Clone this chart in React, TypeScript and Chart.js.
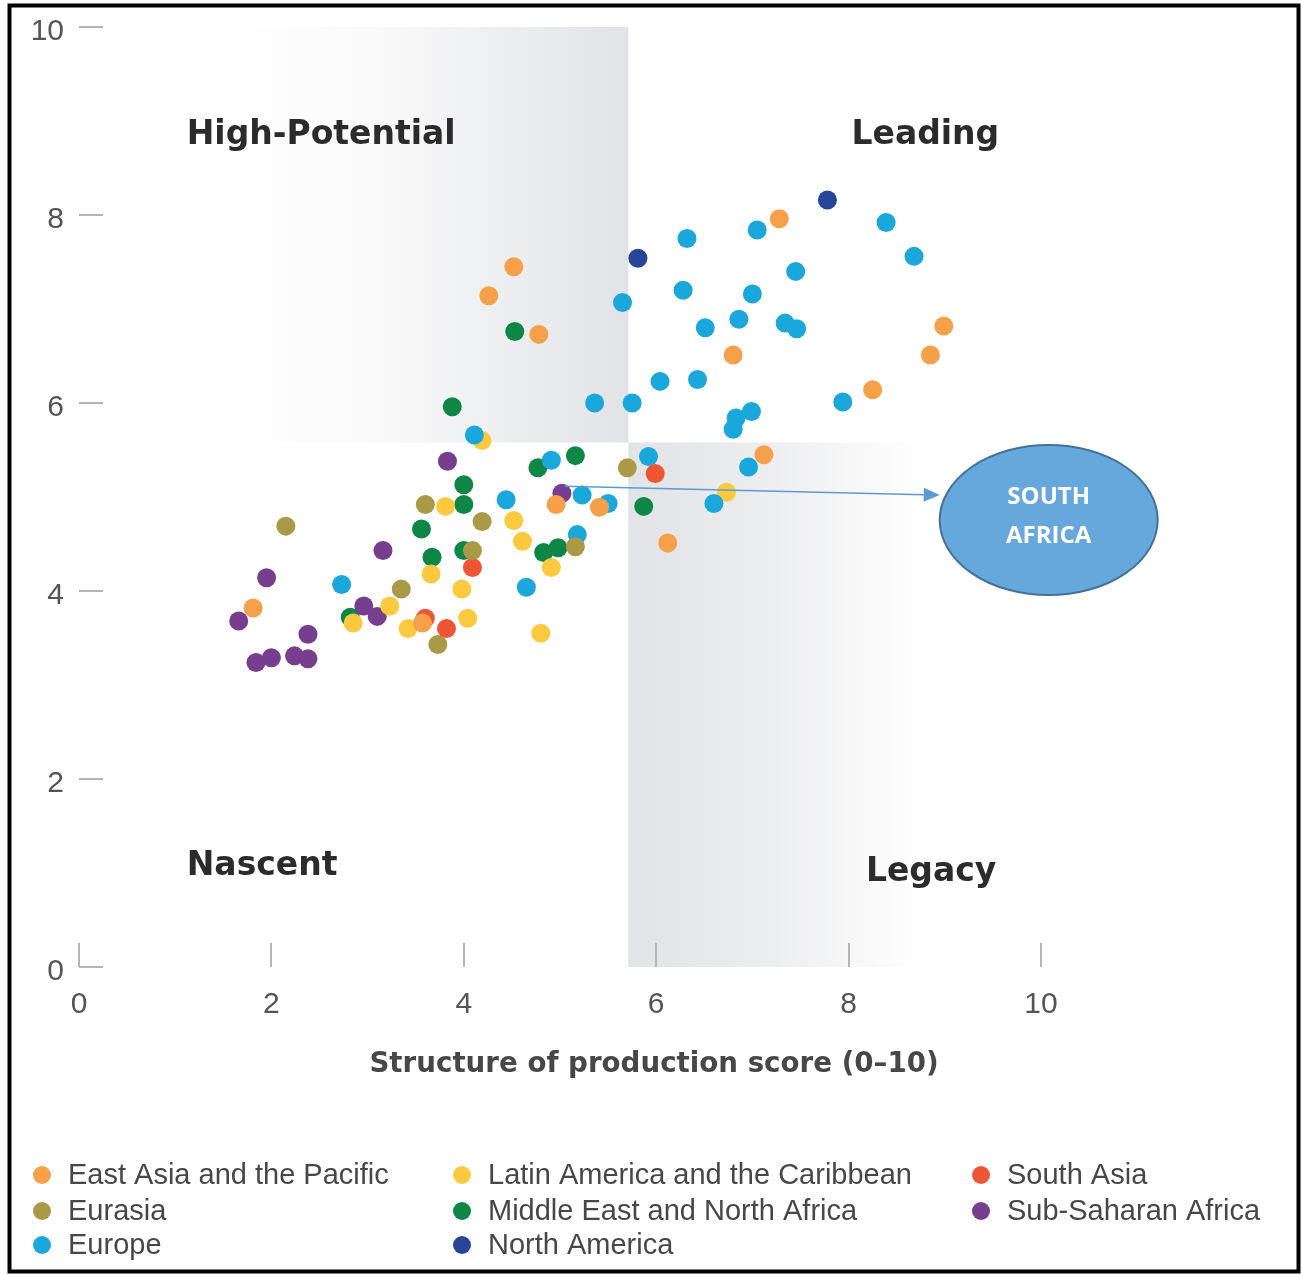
import React, { useEffect, useRef } from "react";
import { Chart, registerables } from "chart.js";

Chart.register(...registerables);

// ---------- data ----------
const REGIONS = [
  "East Asia and the Pacific",
  "Eurasia",
  "Europe",
  "Latin America and the Caribbean",
  "Middle East and North Africa",
  "North America",
  "South Asia",
  "Sub-Saharan Africa",
];
const REGION_COLORS = ["#F6A04A", "#AA9A48", "#1AA7DC", "#FDC93F", "#0E8646", "#26469A", "#EE5535", "#773D8E"];
// lower = drawn on top
const DRAW_ORDER = [1, 2, 4, 5, 7, 0, 3, 6];

// [structure of production score, drivers of production score]
const EAST_ASIA_PACIFIC = [
  [7.28, 7.96], [4.52, 7.45], [4.26, 7.14], [4.78, 6.73], [8.99, 6.82], [6.8, 6.51], [8.85, 6.51],
  [8.25, 6.14], [7.12, 5.45], [4.96, 4.92], [5.41, 4.89], [6.12, 4.51], [1.81, 3.82], [3.57, 3.66],
];
const EURASIA = [
  [2.15, 4.69], [3.6, 4.92], [4.19, 4.74], [4.09, 4.43], [3.35, 4.02], [3.73, 3.43], [5.16, 4.47], [5.7, 5.31],
];
const EUROPE = [
  [7.05, 7.84], [6.32, 7.75], [8.39, 7.92], [8.68, 7.56], [7.45, 7.4], [6.28, 7.2], [7.0, 7.16], [5.65, 7.07],
  [6.51, 6.8], [6.86, 6.89], [7.34, 6.85], [7.46, 6.79], [6.04, 6.23], [6.43, 6.25], [7.94, 6.01], [5.36, 6.0],
  [5.75, 6.0], [6.99, 5.91], [6.83, 5.84], [6.8, 5.72], [4.11, 5.66], [4.91, 5.39], [5.92, 5.43], [6.96, 5.32],
  [6.6, 4.93], [5.23, 5.02], [5.5, 4.93], [4.44, 4.97], [5.18, 4.6], [4.65, 4.04], [2.73, 4.07],
];
const LATIN_AMERICA_CARIBBEAN = [
  [4.19, 5.6], [3.81, 4.9], [4.52, 4.75], [4.61, 4.53], [4.91, 4.25], [3.66, 4.18], [3.98, 4.02],
  [3.23, 3.84], [2.85, 3.66], [3.42, 3.6], [4.04, 3.71], [4.8, 3.55], [6.73, 5.05],
];
const MIDDLE_EAST_NORTH_AFRICA = [
  [4.53, 6.76], [3.88, 5.96], [5.16, 5.44], [4.77, 5.31], [4.0, 5.13], [4.0, 4.92], [3.56, 4.66],
  [5.87, 4.9], [4.83, 4.41], [4.98, 4.46], [4.0, 4.43], [3.67, 4.36], [2.82, 3.72],
];
const NORTH_AMERICA = [[7.78, 8.16], [5.81, 7.54]];
const SOUTH_ASIA = [[5.99, 5.25], [4.09, 4.25], [3.6, 3.71], [3.82, 3.6]];
const SUB_SAHARAN_AFRICA = [
  [3.83, 5.38], [5.02, 5.04], [3.16, 4.43], [1.95, 4.14], [1.66, 3.68], [2.96, 3.84],
  [3.1, 3.73], [2.38, 3.54], [1.84, 3.24], [2.0, 3.29], [2.24, 3.31], [2.38, 3.28],
];
const SERIES = [
  EAST_ASIA_PACIFIC, EURASIA, EUROPE, LATIN_AMERICA_CARIBBEAN,
  MIDDLE_EAST_NORTH_AFRICA, NORTH_AMERICA, SOUTH_ASIA, SUB_SAHARAN_AFRICA,
];

const X_TITLE = "Structure of production score (0\u201310)";
const QUADRANTS = [
  { label: "High-Potential", x: 1.12, y: 8.76 },
  { label: "Leading", x: 8.03, y: 8.76 },
  { label: "Nascent", x: 1.12, y: 0.98 },
  { label: "Legacy", x: 8.18, y: 0.91 },
];
// shaded quadrant bands [x0, x1, y0, y1]
const HIGH_POTENTIAL_BAND = [1.67, 5.71, 5.58, 10];
const LEGACY_BAND = [5.71, 8.75, 0, 5.58];

// annotation
const HIGHLIGHT = { series: 7, index: 1 };
const CALLOUT = { x: 10.08, y: 4.755, lines: ["SOUTH", "AFRICA"] };

// ---------- plugins ----------
const SHADE = "226,227,230";

const backgroundPlugin = {
  id: "bgShade",
  beforeDraw(chart: any) {
    const { ctx, scales } = chart;
    const xs = scales.x;
    const ys = scales.y;
    ctx.save();
    ctx.fillStyle = "#ffffff";
    ctx.fillRect(0, 0, chart.width, chart.height);
    const band = (b: number[], leftDark: boolean) => {
      const x0 = xs.getPixelForValue(b[0]);
      const x1 = xs.getPixelForValue(b[1]);
      const y0 = ys.getPixelForValue(b[3]);
      const y1 = ys.getPixelForValue(b[2]);
      const g = ctx.createLinearGradient(x0, 0, x1, 0);
      if (leftDark) {
        g.addColorStop(0, `rgba(${SHADE},1)`);
        g.addColorStop(0.5, `rgba(${SHADE},0.6)`);
        g.addColorStop(1, `rgba(${SHADE},0)`);
      } else {
        g.addColorStop(0, `rgba(${SHADE},0)`);
        g.addColorStop(0.4, `rgba(${SHADE},0.25)`);
        g.addColorStop(1, `rgba(${SHADE},1)`);
      }
      ctx.fillStyle = g;
      ctx.fillRect(x0, y0, x1 - x0, y1 - y0);
    };
    band(HIGH_POTENTIAL_BAND, false);
    band(LEGACY_BAND, true);
    ctx.restore();
  },
  beforeDatasetsDraw(chart: any) {
    const { ctx, scales } = chart;
    ctx.save();
    ctx.font = "bold 33px 'DejaVu Sans'";
    ctx.fillStyle = "#2b2b2b";
    ctx.textBaseline = "alphabetic";
    ctx.textAlign = "left";
    QUADRANTS.forEach((q) => {
      ctx.fillText(q.label, scales.x.getPixelForValue(q.x), scales.y.getPixelForValue(q.y));
    });
    ctx.restore();
  },
};

const annotationPlugin = {
  id: "annotations",
  afterDraw(chart: any) {
    const { ctx, scales } = chart;
    const xs = scales.x;
    const ys = scales.y;
    ctx.save();

    // x axis title, centred on the figure
    ctx.font = "bold 27.7px 'DejaVu Sans'";
    ctx.fillStyle = "#474747";
    ctx.textAlign = "center";
    ctx.textBaseline = "alphabetic";
    ctx.fillText(X_TITLE, 654, 1072);

    // callout
    const meta = chart.getDatasetMeta(HIGHLIGHT.series);
    const pt = meta.data[HIGHLIGHT.index];
    const cx = xs.getPixelForValue(CALLOUT.x);
    const cy = ys.getPixelForValue(CALLOUT.y);
    const sx = pt.x + 3;
    const sy = pt.y - 7;
    const tx = cx - 109;
    const ty = cy - 25;
    const ang = Math.atan2(ty - sy, tx - sx);
    const headLen = 16;
    const headHalf = 7;
    const bx = tx - headLen * Math.cos(ang);
    const by = ty - headLen * Math.sin(ang);
    ctx.strokeStyle = "#5B9BD5";
    ctx.lineWidth = 1.5;
    ctx.beginPath();
    ctx.moveTo(sx, sy);
    ctx.lineTo(bx, by);
    ctx.stroke();
    ctx.fillStyle = "#5B9BD5";
    ctx.beginPath();
    ctx.moveTo(tx, ty);
    ctx.lineTo(bx + headHalf * Math.sin(ang), by - headHalf * Math.cos(ang));
    ctx.lineTo(bx - headHalf * Math.sin(ang), by + headHalf * Math.cos(ang));
    ctx.closePath();
    ctx.fill();

    ctx.beginPath();
    ctx.ellipse(cx, cy, 109, 75, 0, 0, Math.PI * 2);
    ctx.fillStyle = "#66A8DB";
    ctx.fill();
    ctx.lineWidth = 2;
    ctx.strokeStyle = "#41719C";
    ctx.stroke();
    ctx.fillStyle = "#ffffff";
    ctx.font = "bold 24px 'Open Sans'";
    ctx.textAlign = "center";
    ctx.textBaseline = "middle";
    ctx.fillText(CALLOUT.lines[0], cx, cy - 23);
    ctx.fillText(CALLOUT.lines[1], cx, cy + 16);

    // legend, column-major, 3 rows
    const colX = [42, 462, 981];
    const rowY = [1175, 1211, 1245];
    ctx.font = "29px 'Liberation Sans'";
    ctx.textAlign = "left";
    ctx.textBaseline = "middle";
    chart.data.datasets.forEach((ds: any, i: number) => {
      const col = Math.floor(i / 3);
      const row = i % 3;
      const lx = colX[col];
      const ly = rowY[row];
      ctx.fillStyle = ds.backgroundColor;
      ctx.beginPath();
      ctx.arc(lx, ly, 9, 0, Math.PI * 2);
      ctx.fill();
      ctx.fillStyle = "#474747";
      ctx.fillText(ds.label, lx + 26, ly + 1);
    });

    // frame
    ctx.strokeStyle = "#000000";
    ctx.lineWidth = 4;
    ctx.strokeRect(9.5, 5.5, 1289, 1266);
    ctx.restore();
  },
};

const zeroPad = (s: any) => {
  s.paddingTop = 0;
  s.paddingBottom = 0;
  s.paddingLeft = 0;
  s.paddingRight = 0;
};

export default function App() {
  const canvasRef = useRef<HTMLCanvasElement | null>(null);

  useEffect(() => {
    const canvas = canvasRef.current;
    if (!canvas) return;
    const datasets = SERIES.map((pts, i) => ({
      label: REGIONS[i],
      data: pts.map((p) => ({ x: p[0], y: p[1] })),
      backgroundColor: REGION_COLORS[i],
      borderWidth: 0,
      pointRadius: 9.5,
      pointHoverRadius: 9.5,
      order: DRAW_ORDER[i],
    }));
    const chart = new Chart(canvas, {
      type: "scatter",
      data: { datasets },
      plugins: [backgroundPlugin, annotationPlugin],
      options: {
        animation: false,
        responsive: false,
        events: [],
        layout: { padding: { left: 0, top: 27, right: 261, bottom: 0 } },
        plugins: { legend: { display: false }, tooltip: { enabled: false } },
        scales: {
          x: {
            type: "linear",
            min: 0,
            max: 10,
            afterFit: (s: any) => {
              s.height = 308;
              zeroPad(s);
            },
            border: { display: false },
            grid: { drawOnChartArea: false, drawTicks: true, tickLength: -24, color: "#b4b4b4", lineWidth: 2 },
            ticks: {
              stepSize: 2,
              padding: 44,
              maxRotation: 0,
              color: "#555555",
              font: { family: "'Liberation Sans', Arial, sans-serif", size: 30 },
            },
          },
          y: {
            type: "linear",
            min: 0,
            max: 10,
            afterFit: (s: any) => {
              s.width = 79;
              zeroPad(s);
            },
            border: { display: false },
            grid: { drawOnChartArea: false, drawTicks: true, tickLength: -24, color: "#b4b4b4", lineWidth: 2 },
            ticks: {
              stepSize: 2,
              padding: 39,
              labelOffset: 5,
              color: "#555555",
              font: { family: "'Liberation Sans', Arial, sans-serif", size: 30 },
            },
          },
        },
      },
    });
    return () => chart.destroy();
  }, []);

  return (
    <div style={{ position: "absolute", left: 0, top: 0, width: 1302, height: 1275, background: "#fff" }}>
      <canvas ref={canvasRef} width={1302} height={1275} style={{ width: 1302, height: 1275, display: "block" }} />
    </div>
  );
}
